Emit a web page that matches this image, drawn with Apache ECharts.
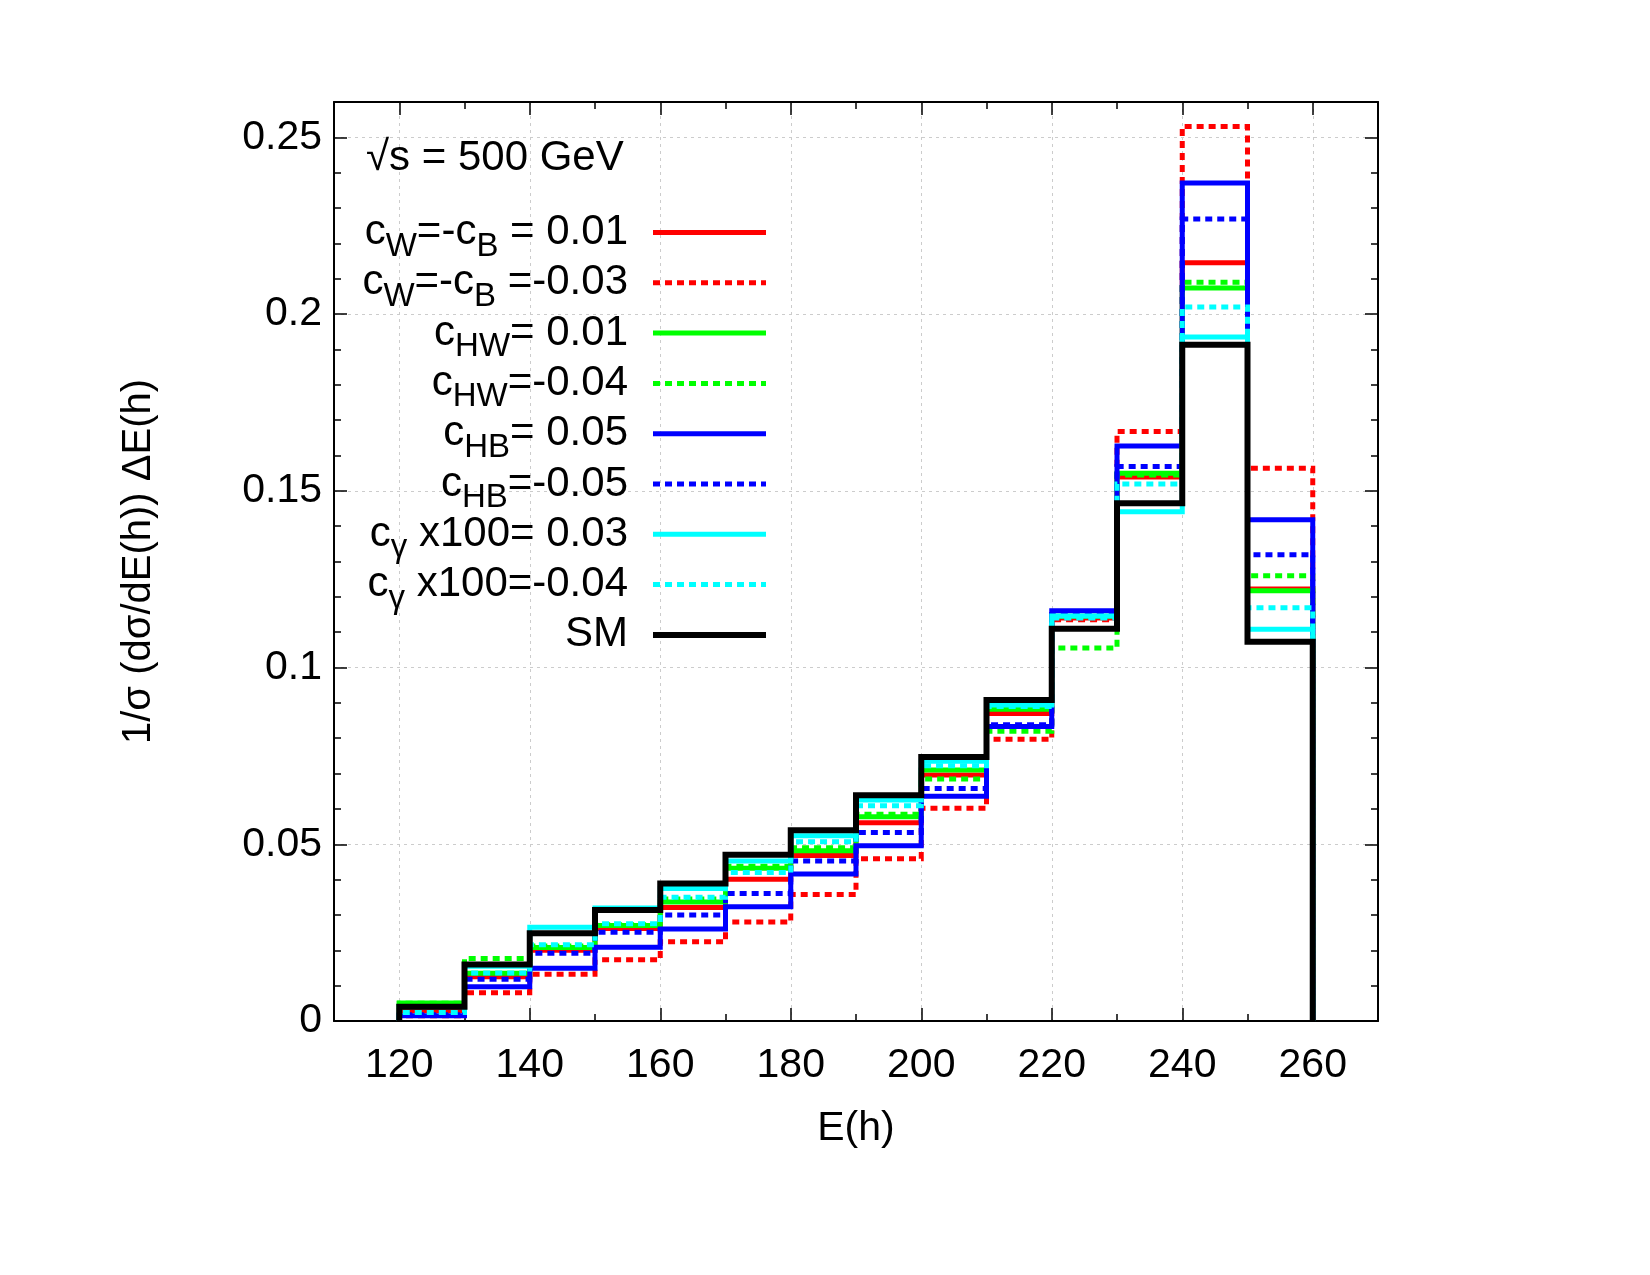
<!DOCTYPE html>
<html>
<head>
<meta charset="utf-8">
<script src="https://cdn.jsdelivr.net/npm/echarts@6/dist/echarts.min.js"></script>
<style>
html, body { margin: 0; padding: 0; background: #fff; }
#chart { width: 1650px; height: 1275px; }
</style>
</head>
<body>
<div id="chart"></div>
<script>
// bin edges of E(h) histogram (GeV)
var binEdges = [120, 130, 140, 150, 160, 170, 180, 190, 200, 210, 220, 230, 240, 250, 260];

var seriesNames = [
    'cW=-cB = 0.01', 'cW=-cB =-0.03',
    'cHW= 0.01', 'cHW=-0.04',
    'cHB= 0.05', 'cHB=-0.05',
    'cγ x100= 0.03', 'cγ x100=-0.04',
    'SM'
];
var legendLabels = [
    '{m|c}{s|W}{m|=-c}{s|B}{m| = 0.01}',
    '{m|c}{s|W}{m|=-c}{s|B}{m| =-0.03}',
    '{m|c}{s|HW}{m|= 0.01}',
    '{m|c}{s|HW}{m|=-0.04}',
    '{m|c}{s|HB}{m|= 0.05}',
    '{m|c}{s|HB}{m|=-0.05}',
    '{m|c}{s|γ}{m| x100= 0.03}',
    '{m|c}{s|γ}{m| x100=-0.04}',
    '{m|SM}{s|\u200b}'
];

// 1/sigma dsigma/dE * dE, one value per bin
var cwPos   = [0.0030, 0.0125, 0.0200, 0.0262, 0.0321, 0.0401, 0.0468, 0.0561, 0.0696, 0.0870, 0.1140, 0.1539, 0.2145, 0.1222];
var cwNeg   = [0.0015, 0.0080, 0.0132, 0.0173, 0.0224, 0.0280, 0.0358, 0.0459, 0.0602, 0.0797, 0.1135, 0.1668, 0.2531, 0.1564];
var chwPos  = [0.0051, 0.0135, 0.0208, 0.0270, 0.0337, 0.0432, 0.0482, 0.0578, 0.0710, 0.0882, 0.1145, 0.1550, 0.2074, 0.1217];
var chwNeg  = [0.0050, 0.0177, 0.0212, 0.0272, 0.0345, 0.0438, 0.0490, 0.0585, 0.0685, 0.0820, 0.1055, 0.1545, 0.2090, 0.1260];
var chbPos  = [0.0015, 0.0097, 0.0149, 0.0209, 0.0260, 0.0323, 0.0416, 0.0496, 0.0636, 0.0833, 0.1161, 0.1627, 0.2371, 0.1418];
var chbNeg  = [0.0018, 0.0118, 0.0192, 0.0251, 0.0300, 0.0361, 0.0453, 0.0533, 0.0658, 0.0838, 0.1150, 0.1569, 0.2269, 0.1319];
var cgamPos = [0.0040, 0.0155, 0.0265, 0.0320, 0.0375, 0.0453, 0.0524, 0.0625, 0.0735, 0.0894, 0.1146, 0.1441, 0.1935, 0.1108];
var cgamNeg = [0.0024, 0.0136, 0.0216, 0.0275, 0.0350, 0.0420, 0.0507, 0.0609, 0.0722, 0.0890, 0.1140, 0.1519, 0.2020, 0.1169];
var smVals  = [0.0040, 0.0160, 0.0248, 0.0314, 0.0389, 0.0470, 0.0540, 0.0639, 0.0747, 0.0908, 0.1110, 0.1465, 0.1913, 0.1073];

var seriesValues = [cwPos, cwNeg, chwPos, chwNeg, chbPos, chbNeg, cgamPos, cgamNeg, smVals];
var seriesColors = ['#ff0000', '#ff0000', '#00ff00', '#00ff00', '#0000ff', '#0000ff', '#00ffff', '#00ffff', '#000000'];
var seriesDashed = [false, true, false, true, false, true, false, true, false];

var FONT = '"Liberation Sans", Arial, Helvetica, sans-serif';

// histogram outline: up from 0 at first edge, across each bin, down to 0 at last edge
function histPoints(vals) {
    var pts = [[binEdges[0], 0]];
    for (var i = 0; i < vals.length; i++) {
        pts.push([binEdges[i], vals[i]]);
    }
    var last = binEdges[binEdges.length - 1];
    pts.push([last, vals[vals.length - 1]]);
    pts.push([last, 0]);
    return pts;
}

function xAx(pos, major) {
    var main = major && pos === 'bottom';
    var ax = {
        type: 'value', gridIndex: 0, position: pos, min: 110, max: 270,
        axisLine: {show: major, onZero: false, lineStyle: {color: '#000', width: 2}},
        axisTick: {show: true, inside: true, length: major ? 13 : 7, lineStyle: {color: '#000', width: 1.5}},
        axisLabel: {
            show: main, margin: 24, color: '#000', fontFamily: FONT, fontSize: 41,
            formatter: function (v) { return (v % 20 === 0 && v >= 120 && v <= 260) ? String(v) : ''; }
        },
        splitLine: {show: main, lineStyle: {color: '#cccccc', width: 1, type: [3, 4]}}
    };
    if (major) { ax.splitNumber = 8; } else { ax.interval = 10; }
    if (main) {
        ax.name = 'E(h)';
        ax.nameLocation = 'middle';
        ax.nameGap = 87;
        ax.nameTextStyle = {color: '#000', fontFamily: FONT, fontSize: 41};
    }
    return ax;
}

function yAx(pos, major) {
    var main = major && pos === 'left';
    var ax = {
        type: 'value', gridIndex: 0, position: pos, min: 0, max: 0.26,
        interval: major ? 0.05 : 0.01,
        axisLine: {show: major, onZero: false, lineStyle: {color: '#000', width: 2}},
        axisTick: {show: true, inside: true, length: major ? 13 : 7, lineStyle: {color: '#000', width: 1.5}},
        axisLabel: {
            show: main, margin: 12, color: '#000', fontFamily: FONT, fontSize: 41,
            formatter: function (v) { return v > 0.255 ? '' : String(Math.round(v * 100) / 100); }
        },
        splitLine: {show: main, lineStyle: {color: '#cccccc', width: 1, type: [3, 4]}}
    };
    if (main) {
        ax.name = '1/σ (dσ/dE(h)) ΔE(h)';
        ax.nameLocation = 'middle';
        ax.nameGap = 175;
        ax.nameTextStyle = {color: '#000', fontFamily: FONT, fontSize: 40};
    }
    return ax;
}

var series = [];
for (var i = 0; i < seriesNames.length; i++) {
    series.push({
        name: seriesNames[i],
        type: 'line',
        xAxisIndex: 0,
        yAxisIndex: 0,
        step: 'end',
        symbol: 'none',
        showSymbol: false,
        silent: true,
        data: histPoints(seriesValues[i]),
        itemStyle: {color: seriesColors[i]},
        lineStyle: {
            color: seriesColors[i],
            width: i === 8 ? 6 : 5,
            type: seriesDashed[i] ? [7, 5] : 'solid',
            cap: 'butt',
            join: 'miter'
        }
    });
}

var chart = echarts.init(document.getElementById('chart'), null, {renderer: 'canvas'});
chart.setOption({
    animation: false,
    backgroundColor: '#fff',
    title: {
        text: '√s = 500 GeV',
        left: 366, top: 137, padding: 0,
        textStyle: {color: '#000', fontFamily: FONT, fontSize: 42, fontWeight: 'normal', lineHeight: 42}
    },
    legend: {
        data: seriesNames,
        orient: 'vertical',
        align: 'right',
        right: 881,
        top: 202,
        padding: 0,
        itemWidth: 113,
        itemHeight: 50,
        itemGap: -10.7,
        selectedMode: false,
        itemStyle: {opacity: 0},
        lineStyle: {width: 'inherit'},
        formatter: function (name) { return legendLabels[seriesNames.indexOf(name)]; },
        textStyle: {
            color: '#000', fontFamily: FONT, fontSize: 42, lineHeight: 40,
            padding: [0, 20, 0, 0],
            rich: {
                m: {color: '#000', fontFamily: FONT, fontSize: 42, lineHeight: 40},
                s: {color: '#000', fontFamily: FONT, fontSize: 33, lineHeight: 40, padding: [28, 0, 0, 0]}
            }
        }
    },
    grid: {left: 334, right: 272, top: 102, bottom: 254, containLabel: false},
    xAxis: [xAx('bottom', true), xAx('bottom', false), xAx('top', true), xAx('top', false)],
    yAxis: [yAx('left', true), yAx('left', false), yAx('right', true), yAx('right', false)],
    series: series
});
</script>
</body>
</html>
